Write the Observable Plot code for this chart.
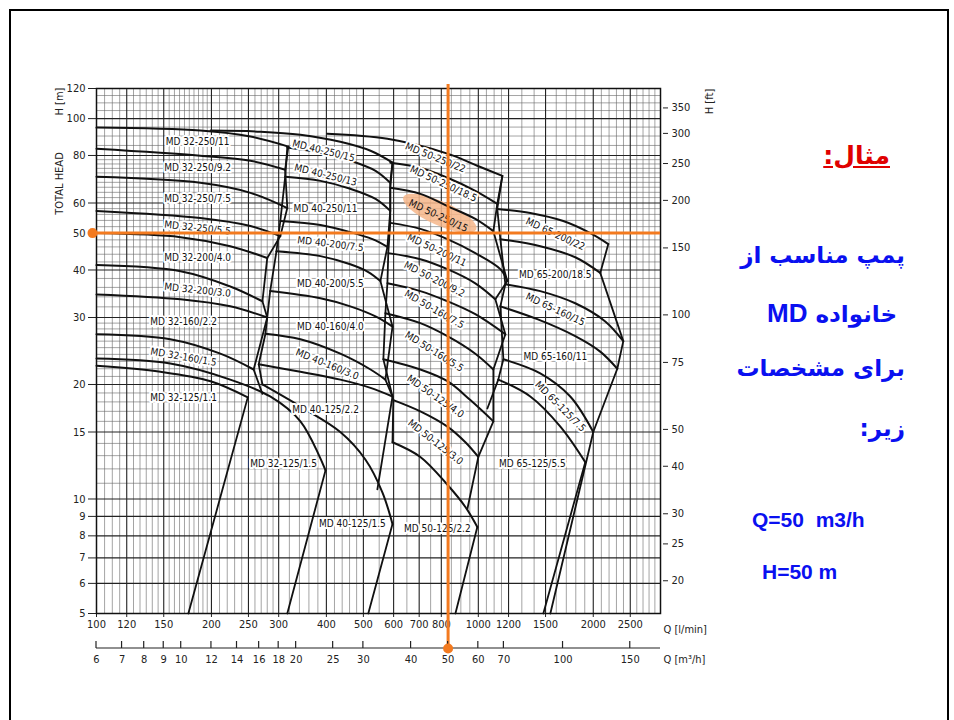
<!DOCTYPE html>
<html><head><meta charset="utf-8">
<script src="https://cdn.jsdelivr.net/npm/d3@7"></script>
<script src="https://cdn.jsdelivr.net/npm/@observablehq/plot@0.6"></script>
<style>
html,body{margin:0;padding:0;background:#fff;overflow:hidden;}
#page{position:relative;width:954px;height:720px;overflow:hidden;background:#fff;}
#frame{position:absolute;left:9px;top:9px;width:936px;height:760px;border:2px solid #000;}
#chart{position:absolute;left:0;top:76px;}
.fa{position:absolute;font-family:"DejaVu Sans",sans-serif;font-weight:bold;color:#0a10f0;direction:rtl;white-space:nowrap;font-size:23px;line-height:28px;}
.la{position:absolute;font-family:"Liberation Sans",Arial,sans-serif;font-weight:bold;color:#0a10f0;white-space:nowrap;font-size:21px;line-height:24px;}
</style></head><body>
<div id="page">
<div id="frame"></div>
<div id="chart"></div>
<div class="fa" style="right:64px;top:142px;color:#e00000;font-size:25px;text-decoration:underline;">مثال:</div>
<div class="fa" style="right:49px;top:241px;">پمپ مناسب از</div>
<div class="fa" style="right:57px;top:299px;">خانواده <span style="font-family:'Liberation Sans',Arial,sans-serif;font-size:26px;">MD</span></div>
<div class="fa" style="right:49px;top:354px;">برای مشخصات</div>
<div class="fa" style="right:49px;top:414px;">زیر:</div>
<div class="la" style="left:752px;top:508px;">Q=50&nbsp; m3/h</div>
<div class="la" style="left:762px;top:560px;">H=50 m</div>
</div>
<script>
// ---- axis ticks ----
const xTicksLmin = [100,120,150,200,250,300,400,500,600,700,800,1000,1200,1500,2000,2500];
const yTicksM = [5,6,7,8,9,10,15,20,30,40,50,60,80,100,120];
const ftTicks = [20,25,30,40,50,75,100,150,200,250,300,350];
const m3hTicks = [6,7,8,9,10,12,14,16,18,20,25,30,40,50,60,70,100,150];
// ---- grid ----
const majorQ = [120,150,200,250,300,400,500,600,700,800,1000,1200,1500,2000,2500];
const minorQ = [105,110,115,125,130,135,140,145,155,160,165,170,175,180,185,190,195,210,220,230,240,260,270,280,290,320,340,360,380,420,440,460,480,550,650,750,850,900,950,1050,1100,1150,1300,1400,1600,1700,1800,1900,2100,2200,2300,2400,2600,2700,2800,2900];
const majorH = [6,7,8,9,10,15,20,30,40,50,60,80,100];
const minorH = [11,12,13,14,16,17,18,19,21,22,23,24,25,26,27,28,29,32,34,36,38,42,44,46,48,52,54,56,58,62,64,66,68,70,72,74,76,78,85,90,95,105,110,115];
// ---- design point ----
const designQ_m3h = 50;
const designH = 50;
// ---- pump curves [Q l/min, H m] ----
const md32 = [
 ["MD 32-250/11", [[100,94.7],[187,93.0],[253,89.7],[318,84.4]]],
 ["MD 32-250/9.2", [[100,83.3],[187,79.9],[253,77.5],[312,73.4]]],
 ["MD 32-250/7.5", [[100,70.3],[187,67.8],[253,63.8],[316,58.2]]],
 ["MD 32-250/5.5", [[100,57.2],[187,54.8],[253,52.2],[303,49.1]]],
 ["MD 32-200/4.0", [[100,50.0],[166,48.8],[224,46.2],[280,43.0]]],
 ["MD 32-200/3.0", [[100,41.2],[166,39.7],[224,36.2],[272,33.1]]],
 ["MD 32-160/2.2", [[100,34.5],[166,33.5],[224,32.1],[280,30.0]]],
 ["MD 32-160/1.5", [[100,27.1],[156,26.3],[211,24.1],[258,21.9]]],
 ["MD 32-125/1.5", [[100,23.4],[156,22.7],[224,20.6],[285,18.6],[342,16.0],[398,11.9]]],
 ["MD 32-125/1.1", [[100,22.4],[147,21.6],[199,20.4],[249,18.5]]]
];
const md40 = [
 ["MD 40-250/15", [[199,93.0],[269,92.4],[342,90.7],[435,86.9],[522,82.3],[596,76.6]]],
 ["MD 40-250/13", [[316,83.9],[386,81.3],[462,77.5],[538,72.9],[588,67.8]]],
 ["MD 40-250/11", [[312,70.3],[386,68.6],[462,65.4],[538,61.5],[588,57.2]]],
 ["MD 40-200/7.5", [[303,53.8],[386,52.5],[462,50.3],[528,48.2],[578,46.0]]],
 ["MD 40-200/5.5", [[296,44.8],[386,43.5],[462,41.4],[515,39.5],[554,37.4]]],
 ["MD 40-160/4.0", [[285,35.2],[386,33.7],[462,32.1],[538,30.2],[596,28.4]]],
 ["MD 40-160/3.0", [[277,27.2],[342,26.3],[435,24.1],[522,21.9],[571,20.6]]],
 ["MD 40-125/2.2", [[266,22.6],[342,21.6],[435,20.6],[522,19.6],[596,18.6]]],
 ["MD 40-125/1.5", [[272,20.0],[342,17.5],[435,15.0],[506,12.7],[561,10.4],[596,8.59]]]
];
const md50 = [
 ["MD 50-250/22", [[402,91.3],[578,88.5],[830,80.9],[994,75.2],[1156,70.7]]],
 ["MD 50-250/18.5", [[588,76.6],[705,74.3],[830,69.9],[982,64.6],[1121,59.7]]],
 ["MD 50-250/15", [[588,65.8],[705,63.4],[830,58.9],[982,54.5],[1095,50.6]]],
 ["MD 50-200/11", [[588,53.2],[705,51.3],[830,48.2],[982,44.3],[1142,40.2],[1191,37.4]]],
 ["MD 50-200/9.2", [[581,44.3],[705,42.7],[830,40.2],[982,36.9],[1108,33.5]]],
 ["MD 50-160/7.5", [[578,36.9],[705,35.2],[830,33.1],[982,30.6],[1177,27.1]]],
 ["MD 50-160/5.5", [[571,30.8],[705,29.0],[830,26.8],[982,24.1],[1095,21.9]]],
 ["MD 50-125/4.0", [[564,23.3],[705,21.9],[830,20.4],[953,18.2],[1095,16.0]]],
 ["MD 50-125/3.0", [[599,18.2],[705,17.0],[830,15.5],[925,14.1],[1000,12.9]]],
 ["MD 50-125/2.2", [[596,14.1],[705,12.9],[830,10.9],[925,9.53],[994,8.44]]]
];
const md65 = [
 ["MD 65-200/22", [[1121,57.9],[1368,56.5],[1669,53.8],[1965,50.0],[2190,46.8]]],
 ["MD 65-200/18.5", [[1142,48.2],[1453,46.2],[1794,43.2],[2086,39.3]]],
 ["MD 65-160/15", [[1177,36.7],[1453,35.2],[1794,32.7],[2150,29.3],[2397,26.0]]],
 ["MD 65-160/11", [[1142,32.1],[1427,29.7],[1794,26.8],[2086,24.4],[2312,22.0]]],
 ["MD 65-125/7.5", [[1163,23.3],[1453,21.4],[1741,18.6],[2000,15.0]]],
 ["MD 65-125/5.5", [[1128,20.6],[1368,18.6],[1640,15.5],[1906,12.5]]]
];
// ---- range boundaries [Q, H] ----
const edges = [
 [[318,84.4],[312,73.4],[316,58.2],[303,49.1],[280,43.0],[272,33.1],[280,30.0],[258,21.9],[272,18.9]],
 [[249,18.5],[174,5]],
 [[398,11.9],[316,5]],
 [[318,84.4],[316,83.9],[312,70.3],[303,53.8],[296,44.8],[285,35.2],[277,27.2],[266,22.6],[272,20.0]],
 [[596,76.6],[588,67.8],[588,57.2],[578,46.0],[554,37.4],[596,28.4],[571,20.6],[596,18.6],[544,10.6]],
 [[596,8.59],[515,5]],
 [[596,76.6],[588,65.8],[588,53.2],[581,44.3],[578,36.9],[571,30.8],[564,23.3],[599,18.2],[596,14.1]],
 [[1156,70.7],[1121,59.7],[1095,50.6],[1191,37.4],[1108,33.5],[1177,27.1],[1095,21.9],[1095,16.0],[1000,12.9],[936,9.41]],
 [[994,8.44],[871,5]],
 [[1156,70.7],[1121,57.9],[1142,48.2],[1177,36.7],[1142,32.1],[1163,23.3],[1128,20.6],[1056,17.3]],
 [[2190,46.8],[2086,39.3],[2397,26.0],[2312,22.0],[2000,15.0]],
 [[2000,15.0],[1544,5]],
 [[1906,12.5],[1480,5]]
];
// ---- labels [text, Q, H, angle] ----
const labels32 = [
 ["MD 32-250/11",184,86.9,0],["MD 32-250/9.2",184,74.3,0],["MD 32-250/7.5",184,61.5,0],
 ["MD 32-250/5.5",184,51.6,6],["MD 32-200/4.0",184,43.0,0],["MD 32-200/3.0",184,35.4,6],
 ["MD 32-160/2.2",169,29.3,0],["MD 32-160/1.5",169,23.6,10],["MD 32-125/1.1",169,18.5,0],
 ["MD 32-125/1.5",309,12.4,0]
];
const labels40 = [
 ["MD 40-250/15",393,82.3,14],["MD 40-250/13",398,71.1,14],["MD 40-250/11",398,57.9,0],
 ["MD 40-200/7.5",410,46.8,7],["MD 40-200/5.5",410,36.9,0],["MD 40-160/4.0",410,28.4,0],
 ["MD 40-160/3.0",402,22.6,22],["MD 40-125/2.2",398,17.2,0],["MD 40-125/1.5",468,8.6,0]
];
const labels50 = [
 ["MD 50-250/22",772,78.9,22],["MD 50-250/18.5",810,67.4,25],["MD 50-250/15",786,55.5,25],
 ["MD 50-200/11",779,45.1,25],["MD 50-200/9.2",767,37.8,27],["MD 50-160/7.5",767,31.5,30],
 ["MD 50-160/5.5",767,24.4,32],["MD 50-125/4.0",772,18.6,35],["MD 50-125/3.0",772,14.1,38],
 ["MD 50-125/2.2",781,8.34,0]
];
const labels65 = [
 ["MD 65-200/22",1591,49.7,25],["MD 65-200/18.5",1591,38.8,0],["MD 65-160/15",1591,31.5,25],
 ["MD 65-160/11",1591,23.6,0],["MD 65-125/7.5",1640,17.5,45],["MD 65-125/5.5",1385,12.4,0]
];
const highlight = {Q: 795, H: 56.2};

// ---- build tables ----
const curveRows = [...md32, ...md40, ...md50, ...md65].flatMap(([name, pts]) => pts.map(([Q, H]) => ({name, Q, H})));
const edgeRows = edges.flatMap((pts, i) => pts.map(([Q, H]) => ({id: i, Q, H})));
const labelRows = [...labels32, ...labels40, ...labels50, ...labels65].map(([t, Q, H, r]) => ({t, Q, H, r, hl: t === "MD 50-250/15"}));
const M3H_TO_LMIN = 1000 / 60;
const FT_PER_M = 3.28084;
const OR = "#f37a1f";
const FONT = '"DejaVu Sans Condensed","Liberation Sans Narrow","Liberation Sans",Arial,sans-serif';
const W = 720, HT = 624, MT = 12, MB = 87, ML = 96, MR = 60;
const FW = W - ML - MR;

const plot = Plot.plot({
  width: W, height: HT,
  marginLeft: ML, marginRight: MR, marginTop: MT, marginBottom: MB,
  x: {type: "log", domain: [100, 3000], axis: null},
  y: {type: "log", domain: [5, 120], axis: null},
  style: {fontFamily: FONT, fontSize: "11px", color: "#222", background: "transparent", overflow: "visible"},
  marks: [
    Plot.ruleX(minorQ, {stroke: "#666", strokeWidth: 0.6}),
    Plot.ruleY(minorH, {stroke: "#666", strokeWidth: 0.6}),
    Plot.ruleX(majorQ, {stroke: "#222", strokeWidth: 1.1}),
    Plot.ruleY(majorH, {stroke: "#222", strokeWidth: 1.1}),
    Plot.line(edgeRows, {x: "Q", y: "H", z: "id", stroke: "#111", strokeWidth: 1.8}),
    Plot.line(curveRows, {x: "Q", y: "H", z: "name", stroke: "#111", strokeWidth: 2, curve: "catmull-rom"}),
    Plot.text(labelRows.filter(d => !d.hl), {x: "Q", y: "H", text: "t", rotate: "r", fontSize: 10, fill: "#111", stroke: "white", strokeWidth: 4}),
    Plot.text(labelRows.filter(d => d.hl), {x: "Q", y: "H", text: "t", rotate: "r", fontSize: 10, fill: "#111"}),
    // bottom l/min scale
    Plot.tickX(xTicksLmin, {x: d => d, stroke: "#222", strokeWidth: 1, insetTop: HT - MT - MB, insetBottom: -4}),
    Plot.text(xTicksLmin, {x: d => d, text: d => String(d), frameAnchor: "bottom", dy: 14}),
    // left metres scale
    Plot.tickY(yTicksM, {y: d => d, stroke: "#222", strokeWidth: 1, insetLeft: -8, insetRight: FW}),
    Plot.text(yTicksM, {y: d => d, text: d => String(d), frameAnchor: "left", dx: -11, textAnchor: "end"}),
    // right feet scale
    Plot.tickY(ftTicks, {y: d => d / FT_PER_M, stroke: "#222", strokeWidth: 1, insetLeft: FW + 3, insetRight: -8}),
    Plot.text(ftTicks, {y: d => d / FT_PER_M, text: d => String(d), frameAnchor: "right", dx: 11, textAnchor: "start"}),
    // m3/h scale labels
    Plot.text(m3hTicks, {x: d => d * M3H_TO_LMIN, text: d => String(d), frameAnchor: "bottom", dy: 49}),
    Plot.frame({stroke: "#111", strokeWidth: 1.5}),
    Plot.ruleY([designH], {stroke: OR, strokeWidth: 3, insetLeft: -4}),
    Plot.ruleX([designQ_m3h * M3H_TO_LMIN], {stroke: OR, strokeWidth: 3, insetTop: -4, insetBottom: -35}),
    Plot.dot([{Q: 100, H: designH}], {x: "Q", y: "H", dx: -4, r: 5, fill: OR}),
    Plot.dot([designQ_m3h * M3H_TO_LMIN], {x: d => d, frameAnchor: "bottom", dy: 35, r: 5, fill: OR}),
    Plot.text(["Q [l/min]"], {frameAnchor: "bottom-right", dx: 3, dy: 19, textAnchor: "start", fontSize: 11}),
    Plot.text(["Q [m³/h]"], {frameAnchor: "bottom-right", dx: 3, dy: 49, textAnchor: "start", fontSize: 11}),
    Plot.text(["H [m]"], {frameAnchor: "top-left", dx: -41, dy: 13, rotate: -90, textAnchor: "middle", fontSize: 11}),
    Plot.text(["TOTAL HEAD"], {frameAnchor: "top-left", dx: -41, dy: 95, rotate: -90, textAnchor: "middle", fontSize: 11}),
    Plot.text(["H [ft]"], {frameAnchor: "top-right", dx: 45, dy: 13, rotate: -90, textAnchor: "middle", fontSize: 11})
  ]
});

// highlight ellipse and m3/h axis line drawn through Plot's scales
const xs = plot.scale("x"), ys = plot.scale("y");
const svg = d3.select(plot);
const firstLine = plot.querySelector('g[aria-label="line"]');
const ell = document.createElementNS("http://www.w3.org/2000/svg", "ellipse");
const ecx = xs.apply(highlight.Q), ecy = ys.apply(highlight.H);
d3.select(ell)
  .attr("cx", ecx).attr("cy", ecy)
  .attr("rx", 40).attr("ry", 12)
  .attr("transform", `rotate(24 ${ecx} ${ecy})`)
  .attr("fill", "#f6b68a").attr("opacity", 0.85);
plot.insertBefore(ell, firstLine);
const yAx = HT - MB + 35;
const g = svg.append("g").attr("stroke", "#222").attr("stroke-width", 1.2);
g.append("line").attr("x1", xs.apply(100)).attr("x2", xs.apply(3000)).attr("y1", yAx).attr("y2", yAx);
m3hTicks.forEach(m => {
  const x = xs.apply(m * M3H_TO_LMIN);
  g.append("line").attr("x1", x).attr("x2", x).attr("y1", yAx - 7).attr("y2", yAx);
});
plot.querySelectorAll('g[aria-label="dot"]').forEach(n => plot.appendChild(n));
document.getElementById("chart").appendChild(plot);
</script>
</body></html>
